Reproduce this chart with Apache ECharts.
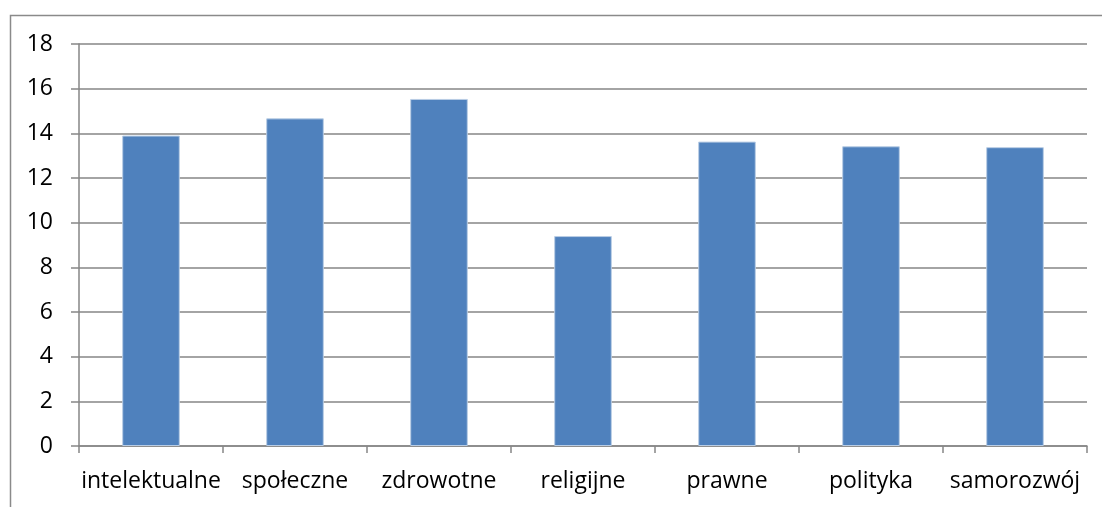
<!DOCTYPE html>
<html>
<head>
<meta charset="utf-8">
<style>
  html, body { margin: 0; padding: 0; background: #fff; }
  #chart { width: 1102px; height: 507px; }
</style>
<script src="https://cdn.jsdelivr.net/npm/echarts@6/dist/echarts.min.js"></script>
</head>
<body>
<div id="chart"></div>
<script>
// Categories and values of the bar series
const categories = ['intelektualne', 'społeczne', 'zdrowotne', 'religijne', 'prawne', 'polityka', 'samorozwój'];
const values = [13.9, 14.67, 15.54, 9.4, 13.63, 13.42, 13.38];
const yTicks = [0, 2, 4, 6, 8, 10, 12, 14, 16, 18];

const chart = echarts.init(document.getElementById('chart'), null, { renderer: 'canvas' });
const fontFamily = '"Open Sans", Lato, sans-serif';
const axisGray = '#868686';

chart.setOption({
  animation: false,
  backgroundColor: '#ffffff',
  graphic: [{
    type: 'rect',
    shape: { x: 10.5, y: 15.5, width: 1200, height: 600 },
    style: { fill: 'none', stroke: '#8a8a8a', lineWidth: 1.5 },
    silent: true
  }],
  grid: { left: 79, right: 15, top: 44, bottom: 61 },
  xAxis: {
    type: 'category',
    data: categories,
    axisLine: { lineStyle: { color: axisGray, width: 1.5 } },
    axisTick: { show: true, length: 7, alignWithLabel: false, lineStyle: { color: axisGray, width: 1.5 } },
    axisLabel: { color: '#000', fontFamily: fontFamily, fontSize: 23, margin: 24, interval: 0 },
    splitLine: { show: false }
  },
  yAxis: {
    type: 'value',
    min: 0,
    max: 18,
    interval: 2,
    axisLine: { show: true, lineStyle: { color: axisGray, width: 1.5 } },
    axisTick: { show: true, length: 8, lineStyle: { color: axisGray, width: 1.5 } },
    axisLabel: {
      color: '#000', fontFamily: fontFamily, fontSize: 23, margin: 26,
      formatter: v => yTicks.includes(v) ? String(v) : ''
    },
    splitLine: { show: true, lineStyle: { color: axisGray, width: 1.5 } }
  },
  series: [{
    type: 'bar',
    data: values,
    barWidth: '40%',
    itemStyle: { color: '#4F81BD', borderColor: '#B9CDE5', borderWidth: 1 }
  }]
});
</script>
</body>
</html>
